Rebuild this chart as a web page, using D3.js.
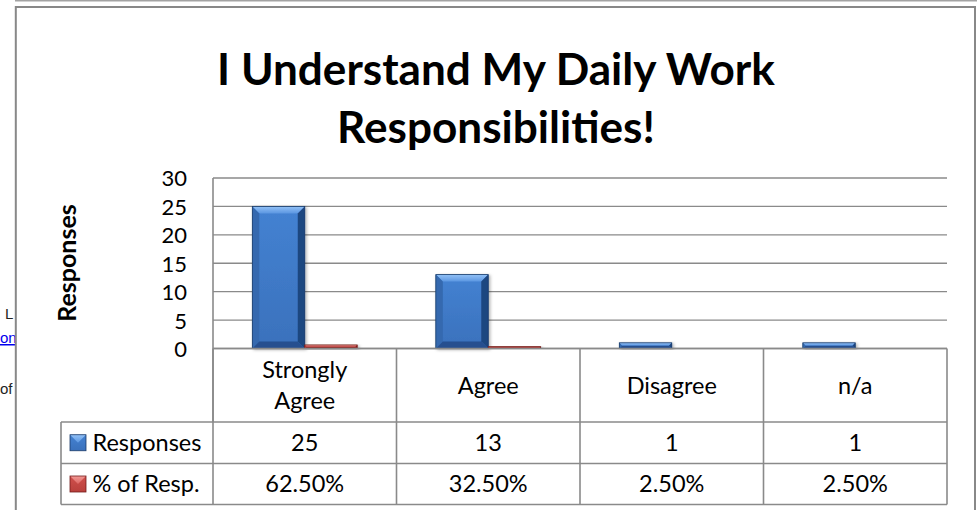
<!DOCTYPE html>
<html>
<head>
<meta charset="utf-8">
<script src="https://cdn.jsdelivr.net/npm/d3@7"></script>
<style>
  html, body { margin: 0; padding: 0; background: #fff; }
  svg { display: block; }
</style>
</head>
<body>
<svg id="chart" width="977" height="510"></svg>
<script>
// ---- data ----
const titleLines = ["I Understand My Daily Work", "Responsibilities!"];
const categories = ["Strongly Agree", "Agree", "Disagree", "n/a"];
const seriesNames = ["Responses", "% of Resp."];
const responses = [25, 13, 1, 1];
const pctOfResp = [0.625, 0.325, 0.025, 0.025];
const yTicks = [0, 5, 10, 15, 20, 25, 30];
const yAxisTitle = "Responses";

// ---- layout ----
const W = 977, H = 510;
const FONT = "Lato, 'Open Sans', sans-serif";
const plot = { left: 213, right: 947, top: 178, bottom: 348.5 };
const table = { left: 61, headerBottom: 422, row1Bottom: 463.5, row2Bottom: 504.5 };
const lineColor = "#8a8a8a";

const svg = d3.select("#chart");
const defs = svg.append("defs");

// stray page text peeking out beside the chart object
const page = svg.append("g").attr("font-family", "'Liberation Sans', Arial, sans-serif").attr("font-size", 15);
page.append("text").attr("x", 5).attr("y", 319).attr("fill", "#222").text("L");
page.append("text").attr("x", 0).attr("y", 343).attr("fill", "#0000ee").attr("text-decoration", "underline").text("on");
page.append("text").attr("x", 0).attr("y", 394).attr("fill", "#222").text("of");

// top rule of the page and the chart frame
svg.append("line").attr("x1", 15).attr("x2", W).attr("y1", 0.8).attr("y2", 0.8)
  .attr("stroke", "#a3a3a3").attr("stroke-width", 1.6);
svg.append("rect").attr("x", 15.8).attr("y", 7).attr("width", 959.2).attr("height", H + 20)
  .attr("fill", "#fff").attr("stroke", "#888").attr("stroke-width", 2);

// ---- gradients for the bevelled bars ----
function vGrad(id, c0, c1) {
  const g = defs.append("linearGradient").attr("id", id).attr("x1", 0).attr("y1", 0).attr("x2", 0).attr("y2", 1);
  g.append("stop").attr("offset", "0%").attr("stop-color", c0);
  g.append("stop").attr("offset", "100%").attr("stop-color", c1);
}
const palettes = {
  blue: { body: ["#4482d2", "#3a71bc"], top: ["#93c2f7", "#5b96e1"], left: "#3469af", right: "#1f4680", bottom: "#25508f", edge: "#1b3b69" },
  red:  { body: ["#d0504c", "#b9403c"], top: ["#f29a96", "#dc6562"], left: "#b23a36", right: "#7d201d", bottom: "#8e2724", edge: "#731b19" }
};
Object.entries(palettes).forEach(([k, p]) => {
  vGrad(k + "Body", p.body[0], p.body[1]);
  vGrad(k + "Top", p.top[0], p.top[1]);
});
const shadow = defs.append("filter").attr("id", "barShadow").attr("x", "-20%").attr("y", "-20%").attr("width", "140%").attr("height", "140%");
shadow.append("feDropShadow").attr("dx", 1.5).attr("dy", 1).attr("stdDeviation", 1.4)
  .attr("flood-color", "#000").attr("flood-opacity", 0.3);

function bevelBox(g, x, y, w, h, key, maxBevel) {
  if (h <= 0 || w <= 0) return;
  const p = palettes[key];
  const b = Math.min(maxBevel, h / 2, w / 2);
  const box = g.append("g").attr("filter", "url(#barShadow)");
  box.append("rect").attr("x", x).attr("y", y).attr("width", w).attr("height", h).attr("fill", `url(#${key}Body)`);
  box.append("path").attr("d", `M${x},${y}L${x + w},${y}L${x + w - b},${y + b}L${x + b},${y + b}Z`).attr("fill", `url(#${key}Top)`);
  box.append("path").attr("d", `M${x},${y}L${x + b},${y + b}L${x + b},${y + h - b}L${x},${y + h}Z`).attr("fill", p.left);
  box.append("path").attr("d", `M${x + w},${y}L${x + w},${y + h}L${x + w - b},${y + h - b}L${x + w - b},${y + b}Z`).attr("fill", p.right);
  box.append("path").attr("d", `M${x},${y + h}L${x + b},${y + h - b}L${x + w - b},${y + h - b}L${x + w},${y + h}Z`).attr("fill", p.bottom);
  box.append("rect").attr("x", x).attr("y", y).attr("width", w).attr("height", h)
    .attr("fill", "none").attr("stroke", p.edge).attr("stroke-width", 0.8);
}

// legend key: a small square with a light facet across its top half
function legendKey(g, x, y, s, key) {
  const p = palettes[key];
  const k = g.append("g");
  k.append("rect").attr("x", x).attr("y", y).attr("width", s).attr("height", s).attr("fill", `url(#${key}Body)`);
  k.append("path").attr("d", `M${x},${y}L${x + s},${y}L${x + s / 2},${y + s / 2}Z`).attr("fill", `url(#${key}Top)`);
  k.append("rect").attr("x", x).attr("y", y).attr("width", s).attr("height", s)
    .attr("fill", "none").attr("stroke", p.edge).attr("stroke-width", 0.8);
}

// ---- title ----
const titleG = svg.append("g").attr("font-family", FONT).attr("font-weight", 700).attr("fill", "#000")
  .attr("text-anchor", "middle");
const t1 = titleG.append("text").attr("x", 496).attr("y", 85).attr("font-size", 44).text(titleLines[0]);
const t2 = titleG.append("text").attr("x", 496).attr("y", 143).attr("font-size", 44).text(titleLines[1]);
// size the title so its first line spans the intended width
const titleSize = 44 * 558 / t1.node().getComputedTextLength();
t1.attr("font-size", titleSize);
t2.attr("font-size", titleSize);

// ---- scales ----
const y = d3.scaleLinear().domain([0, 30]).range([plot.bottom, plot.top]);
const x0 = d3.scaleBand().domain(categories).range([plot.left, plot.right]).padding(0);
// Excel-style gap width of 150% between clusters
const gapRatio = 1.5;
const barW = x0.bandwidth() / (seriesNames.length + gapRatio);
const x1 = d3.scaleBand().domain(seriesNames).range([0, barW * seriesNames.length]).padding(0);
const clusterOffset = barW * gapRatio / 2;

// ---- gridlines ----
svg.append("g").selectAll("line").data(yTicks).join("line")
  .attr("x1", plot.left).attr("x2", plot.right)
  .attr("y1", d => y(d)).attr("y2", d => y(d))
  .attr("stroke", lineColor).attr("stroke-width", 1.4);

// ---- y axis ----
const yAxis = svg.append("g").attr("transform", `translate(${plot.left},0)`)
  .call(d3.axisLeft(y).tickValues(yTicks).tickSize(0).tickPadding(26));
yAxis.select(".domain").remove();
yAxis.selectAll("text").attr("font-family", FONT).attr("font-size", 22).attr("fill", "#000").attr("dy", "0.36em");

svg.append("line").attr("x1", plot.left).attr("x2", plot.left).attr("y1", plot.top).attr("y2", table.headerBottom)
  .attr("stroke", lineColor).attr("stroke-width", 1.6);

svg.append("text").attr("transform", "translate(76,263) rotate(-90)")
  .attr("text-anchor", "middle").attr("font-family", FONT).attr("font-weight", 700).attr("font-size", 25)
  .attr("fill", "#000").text(yAxisTitle);

// ---- bars ----
const seriesValues = [responses, pctOfResp];
const barsG = svg.append("g");
categories.forEach((cat, i) => {
  seriesNames.forEach((s, j) => {
    const v = seriesValues[j][i];
    const bx = x0(cat) + clusterOffset + x1(s);
    const by = y(v);
    bevelBox(barsG, bx, by, x1.bandwidth(), y(0) - by, j === 0 ? "blue" : "red", 7);
  });
});

// ---- data table ----
const tbl = svg.append("g").attr("font-family", FONT).attr("font-size", 23.5).attr("fill", "#000");
const tLine = (xa, ya, xb, yb) => tbl.append("line").attr("x1", xa).attr("y1", ya).attr("x2", xb).attr("y2", yb)
  .attr("stroke", lineColor).attr("stroke-width", 1.6);

tLine(plot.left, plot.bottom, plot.right, plot.bottom);
[table.headerBottom, table.row1Bottom, table.row2Bottom].forEach(ry => tLine(table.left, ry, plot.right, ry));
categories.forEach(cat => tLine(x0(cat) + x0.bandwidth(), plot.bottom, x0(cat) + x0.bandwidth(), table.row2Bottom));
tLine(plot.left, plot.bottom, plot.left, table.row2Bottom);
tLine(table.left, table.headerBottom, table.left, table.row2Bottom);

// header cells, wrapped when a label is long for its column
const headerMid = (plot.bottom + table.headerBottom) / 2;
const lineGap = 31;
categories.forEach(cat => {
  const cx = x0(cat) + x0.bandwidth() / 2;
  const probe = tbl.append("text").text(cat);
  const words = cat.split(" ");
  const lines = probe.node().getComputedTextLength() > 120 ? words : [cat];
  probe.remove();
  lines.forEach((ln, k) => {
    tbl.append("text").attr("x", cx).attr("text-anchor", "middle")
      .attr("y", headerMid + (k - (lines.length - 1) / 2) * lineGap).attr("dy", "0.36em").text(ln);
  });
});

// value rows
const pctFmt = d3.format(".2%");
const rows = [
  { name: seriesNames[0], key: "blue", values: responses.map(String), top: table.headerBottom, bottom: table.row1Bottom },
  { name: seriesNames[1], key: "red", values: pctOfResp.map(pctFmt), top: table.row1Bottom, bottom: table.row2Bottom }
];
rows.forEach(r => {
  const mid = (r.top + r.bottom) / 2;
  legendKey(tbl, 70, mid - 8, 16, r.key);
  tbl.append("text").attr("x", 92.5).attr("y", mid).attr("dy", "0.36em").text(r.name);
  categories.forEach((cat, i) => {
    tbl.append("text").attr("x", x0(cat) + x0.bandwidth() / 2).attr("y", mid).attr("dy", "0.36em")
      .attr("text-anchor", "middle").text(r.values[i]);
  });
});
</script>
</body>
</html>
